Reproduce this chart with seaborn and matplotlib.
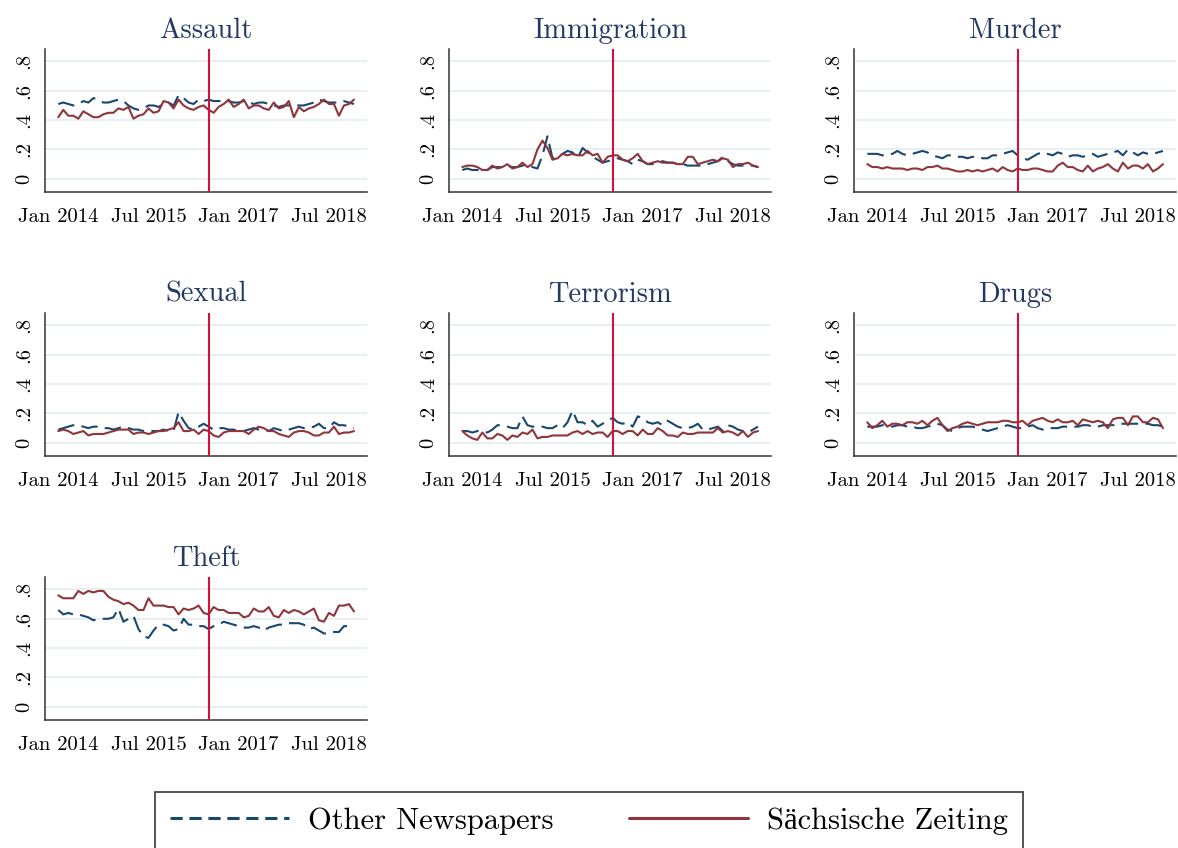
import numpy as np
import pandas as pd
import matplotlib
matplotlib.use("Agg")
import matplotlib.pyplot as plt
import seaborn as sns

months = list(range(60))  # Jan 2014 .. Dec 2018
tick_pos = [0, 18, 36, 54]
tick_labels = ["Jan 2014", "Jul 2015", "Jan 2017", "Jul 2018"]
ytick_vals = [0, 0.2, 0.4, 0.6, 0.8]
ytick_labels = ["0", ".2", ".4", ".6", ".8"]
treatment_month = 30  # Jul 2016

topics = ["Assault", "Immigration", "Murder", "Sexual", "Terrorism", "Drugs", "Theft"]
sources = ["Other Newspapers", "Sächsische Zeiting"]

assault_other = [0.51,0.52,0.51,0.50,0.51,0.53,0.52,0.55,0.54,0.52,0.52,0.53,
                 0.54,0.53,0.50,0.48,0.47,0.48,0.50,0.50,0.49,0.51,0.52,0.50,
                 0.57,0.55,0.52,0.51,0.54,0.53,0.54,0.53,0.53,0.53,0.53,0.52,
                 0.52,0.53,0.52,0.51,0.52,0.52,0.51,0.50,0.49,0.50,0.50,0.51,
                 0.50,0.50,0.51,0.52,0.54,0.53,0.52,0.52,0.52,0.53,0.52,0.51]
assault_sz = [0.42,0.47,0.43,0.43,0.41,0.46,0.44,0.42,0.42,0.44,0.45,0.45,
              0.48,0.47,0.49,0.41,0.43,0.44,0.48,0.45,0.46,0.53,0.52,0.48,
              0.54,0.50,0.48,0.47,0.49,0.50,0.47,0.45,0.49,0.51,0.54,0.49,
              0.51,0.54,0.48,0.50,0.50,0.48,0.47,0.52,0.48,0.49,0.53,0.42,
              0.49,0.46,0.48,0.49,0.51,0.54,0.51,0.51,0.43,0.50,0.51,0.54]

immigration_other = [0.06,0.07,0.06,0.06,0.06,0.06,0.08,0.08,0.08,0.09,0.08,0.08,
                     0.09,0.10,0.08,0.07,0.16,0.29,0.14,0.15,0.17,0.19,0.18,0.14,
                     0.21,0.18,0.15,0.13,0.11,0.12,0.13,0.14,0.13,0.12,0.10,0.13,
                     0.12,0.10,0.10,0.11,0.12,0.11,0.11,0.10,0.10,0.09,0.09,0.09,
                     0.09,0.10,0.11,0.12,0.15,0.12,0.10,0.09,0.09,0.09,0.09,0.08]
immigration_sz = [0.08,0.09,0.09,0.08,0.06,0.06,0.09,0.07,0.08,0.10,0.07,0.08,
                  0.11,0.08,0.10,0.20,0.26,0.21,0.13,0.14,0.17,0.16,0.17,0.16,
                  0.16,0.19,0.16,0.17,0.11,0.15,0.16,0.16,0.13,0.12,0.14,0.17,
                  0.12,0.10,0.11,0.12,0.11,0.11,0.11,0.10,0.10,0.15,0.15,0.10,
                  0.11,0.12,0.13,0.12,0.14,0.13,0.08,0.10,0.10,0.11,0.09,0.08]

murder_other = [0.17,0.17,0.17,0.16,0.16,0.17,0.19,0.17,0.16,0.17,0.18,0.19,
                0.18,0.16,0.15,0.14,0.16,0.16,0.15,0.15,0.14,0.15,0.15,0.14,
                0.14,0.16,0.16,0.17,0.18,0.19,0.16,0.14,0.13,0.15,0.17,0.18,
                0.17,0.16,0.18,0.17,0.15,0.16,0.16,0.15,0.16,0.17,0.15,0.16,
                0.17,0.18,0.19,0.16,0.20,0.18,0.16,0.18,0.17,0.17,0.18,0.19]
murder_sz = [0.10,0.08,0.08,0.07,0.08,0.07,0.07,0.07,0.06,0.07,0.07,0.06,
             0.08,0.08,0.09,0.07,0.07,0.06,0.05,0.05,0.06,0.05,0.06,0.05,
             0.06,0.07,0.05,0.08,0.06,0.05,0.07,0.06,0.06,0.07,0.07,0.06,
             0.05,0.05,0.09,0.11,0.08,0.08,0.06,0.05,0.09,0.05,0.07,0.08,
             0.10,0.07,0.05,0.11,0.07,0.09,0.09,0.07,0.10,0.05,0.07,0.10]

sexual_other = [0.09,0.10,0.11,0.12,0.12,0.11,0.10,0.11,0.11,0.10,0.10,0.09,
                0.10,0.11,0.10,0.09,0.09,0.08,0.08,0.08,0.08,0.09,0.08,0.08,
                0.21,0.15,0.10,0.09,0.11,0.13,0.11,0.09,0.10,0.10,0.09,0.09,
                0.08,0.08,0.09,0.10,0.09,0.09,0.08,0.10,0.09,0.08,0.09,0.10,
                0.11,0.10,0.10,0.11,0.13,0.10,0.10,0.14,0.12,0.12,0.11,0.10]
sexual_sz = [0.08,0.09,0.08,0.06,0.07,0.08,0.05,0.06,0.06,0.06,0.07,0.08,
             0.09,0.09,0.09,0.06,0.07,0.07,0.06,0.07,0.08,0.08,0.09,0.10,
             0.14,0.08,0.08,0.09,0.06,0.09,0.08,0.05,0.04,0.07,0.08,0.08,
             0.08,0.08,0.06,0.09,0.11,0.10,0.08,0.08,0.06,0.05,0.04,0.07,
             0.08,0.08,0.07,0.05,0.05,0.07,0.07,0.11,0.06,0.07,0.07,0.08]

terrorism_other = [0.08,0.08,0.07,0.08,0.08,0.07,0.09,0.12,0.12,0.11,0.10,0.10,
                   0.18,0.12,0.11,0.11,0.11,0.10,0.10,0.12,0.10,0.14,0.22,0.14,
                   0.14,0.12,0.15,0.11,0.13,0.15,0.17,0.14,0.13,0.14,0.11,0.18,
                   0.17,0.14,0.13,0.14,0.12,0.15,0.13,0.11,0.10,0.10,0.11,0.13,
                   0.09,0.09,0.10,0.11,0.08,0.12,0.11,0.09,0.08,0.07,0.09,0.11]
terrorism_sz = [0.08,0.05,0.03,0.02,0.07,0.03,0.03,0.06,0.05,0.02,0.05,0.04,
                0.07,0.06,0.09,0.03,0.04,0.04,0.05,0.05,0.05,0.05,0.07,0.08,
                0.06,0.08,0.06,0.07,0.07,0.04,0.08,0.08,0.06,0.08,0.08,0.05,
                0.09,0.06,0.06,0.10,0.08,0.05,0.05,0.04,0.07,0.06,0.06,0.07,
                0.07,0.07,0.07,0.10,0.07,0.08,0.07,0.05,0.08,0.04,0.07,0.08]

drugs_other = [0.11,0.11,0.11,0.12,0.12,0.11,0.12,0.12,0.11,0.11,0.10,0.10,
               0.11,0.12,0.13,0.12,0.09,0.08,0.10,0.11,0.11,0.11,0.10,0.09,
               0.08,0.09,0.10,0.11,0.12,0.11,0.10,0.10,0.11,0.12,0.10,0.09,
               0.10,0.10,0.10,0.11,0.11,0.11,0.11,0.12,0.12,0.11,0.11,0.12,
               0.12,0.12,0.13,0.13,0.13,0.13,0.13,0.13,0.13,0.12,0.12,0.11]
drugs_sz = [0.14,0.10,0.12,0.15,0.11,0.13,0.13,0.12,0.14,0.14,0.13,0.15,
            0.12,0.15,0.17,0.12,0.08,0.10,0.11,0.13,0.14,0.13,0.12,0.13,
            0.14,0.14,0.14,0.15,0.15,0.14,0.14,0.15,0.12,0.15,0.16,0.17,
            0.15,0.14,0.16,0.14,0.14,0.15,0.12,0.16,0.15,0.14,0.15,0.14,
            0.10,0.16,0.17,0.17,0.12,0.18,0.18,0.14,0.14,0.17,0.16,0.10]

theft_other = [0.66,0.63,0.64,0.63,0.63,0.62,0.61,0.59,0.60,0.60,0.60,0.61,
               0.67,0.58,0.60,0.62,0.53,0.48,0.47,0.52,0.56,0.56,0.55,0.52,
               0.53,0.60,0.56,0.56,0.55,0.55,0.53,0.55,0.56,0.58,0.57,0.56,
               0.55,0.54,0.54,0.55,0.54,0.52,0.54,0.55,0.56,0.56,0.57,0.57,
               0.57,0.56,0.53,0.54,0.52,0.50,0.50,0.51,0.51,0.55,0.55,0.55]
theft_sz = [0.76,0.74,0.74,0.74,0.79,0.77,0.79,0.78,0.79,0.79,0.75,0.73,
            0.72,0.70,0.71,0.69,0.66,0.66,0.74,0.69,0.69,0.69,0.68,0.68,
            0.63,0.67,0.66,0.67,0.69,0.64,0.63,0.68,0.66,0.66,0.64,0.64,
            0.64,0.61,0.62,0.67,0.65,0.65,0.68,0.62,0.61,0.66,0.64,0.66,
            0.65,0.63,0.65,0.67,0.59,0.58,0.64,0.62,0.69,0.69,0.70,0.65]

series = {
    "Assault": (assault_other, assault_sz),
    "Immigration": (immigration_other, immigration_sz),
    "Murder": (murder_other, murder_sz),
    "Sexual": (sexual_other, sexual_sz),
    "Terrorism": (terrorism_other, terrorism_sz),
    "Drugs": (drugs_other, drugs_sz),
    "Theft": (theft_other, theft_sz),
}

rows = []
for t in topics:
    o, s = series[t]
    for m, v in zip(months, o):
        rows.append((t, sources[0], m, v))
    for m, v in zip(months, s):
        rows.append((t, sources[1], m, v))
df = pd.DataFrame(rows, columns=["topic", "source", "month", "share"])

sns.set_style("white")
FONT = ["cmr10", "Liberation Serif", "DejaVu Serif"]
plt.rcParams["font.family"] = FONT
plt.rcParams["axes.formatter.use_mathtext"] = True
plt.rcParams["text.color"] = "black"
plt.rcParams["xtick.color"] = "black"
plt.rcParams["ytick.color"] = "black"

BLUE = "#1a476f"
RED = "#90353b"
VLINE = "#d4113d"
GRID = "#e9f0f3"
TITLE = "#233863"

W, H = 1178, 848
fig = plt.figure(figsize=(W / 100, H / 100), dpi=100)

col_left = [45, 449, 854]
row_top = [49, 313, 577]
ax_w, ax_h = 322, 143

palette = {sources[0]: BLUE, sources[1]: RED}
dashes = {sources[0]: (8, 3.5), sources[1]: ""}

for i, t in enumerate(topics):
    r, c = divmod(i, 3)
    left = col_left[c] / W
    bottom = 1 - (row_top[r] + ax_h) / H
    ax = fig.add_axes([left, bottom, ax_w / W, ax_h / H])
    sub = df[df.topic == t]
    for yv in ytick_vals:
        ax.axhline(yv, color=GRID, lw=1.4, zorder=0)
    sns.lineplot(data=sub, x="month", y="share", hue="source", style="source",
                 palette=palette, dashes=dashes, lw=1.5, ax=ax, legend=False,
                 zorder=2)
    ax.axvline(treatment_month, color=VLINE, lw=1.5, zorder=3)
    ax.set_xlim(-2.65, 61.6)
    ax.set_ylim(-0.09, 0.885)
    ax.set_xticks(tick_pos)
    ax.set_xticklabels(tick_labels, fontsize=14.8)
    ax.set_yticks(ytick_vals)
    ax.set_yticklabels(ytick_labels, fontsize=14.8, rotation=90, va="center")
    ax.tick_params(axis="both", direction="out", length=4.5, width=1.0,
                   color="#333333", labelcolor="black")
    ax.tick_params(axis="x", pad=7)
    ax.tick_params(axis="y", pad=4)
    ax.set_xlabel("")
    ax.set_ylabel("")
    for sp in ["top", "right"]:
        ax.spines[sp].set_visible(False)
    for sp in ["left", "bottom"]:
        ax.spines[sp].set_color("#333333")
        ax.spines[sp].set_linewidth(1.1)
    ax.set_title(t, fontsize=20.5, color=TITLE, pad=8)
    ax.grid(False)

from matplotlib.lines import Line2D
handles = [Line2D([], [], color=BLUE, lw=2.2, linestyle=(0, (4, 2.2))),
           Line2D([], [], color=RED, lw=2.2)]
leg = fig.legend(handles, sources, loc="upper center",
                 bbox_to_anchor=(589 / W, 1 - 792 / H), ncol=2,
                 fontsize=22, handlelength=3.9, handletextpad=0.62,
                 columnspacing=2.45, borderpad=0.5, borderaxespad=0,
                 frameon=True, fancybox=False, edgecolor="#1a1a1a")
leg.get_frame().set_linewidth(1.3)

fig.savefig("out.png", dpi=100, facecolor="white")
